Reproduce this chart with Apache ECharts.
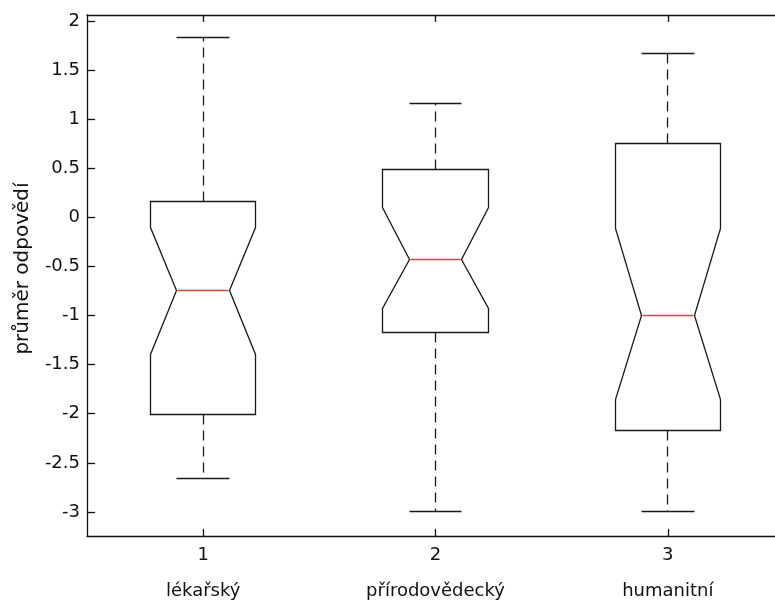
<!DOCTYPE html>
<html>
<head>
<meta charset="utf-8">
<script src="https://cdn.jsdelivr.net/npm/echarts@6/dist/echarts.min.js"></script>
<style>
  html, body { margin: 0; padding: 0; background: #fff; }
  #chart { width: 775px; height: 603px; }
</style>
</head>
<body>
<div id="chart"></div>
<script>
// Notched box plot of mean answers by faculty
const categories = ['lékařský', 'přírodovědecký', 'humanitní'];
const positions = [1, 2, 3];
const whiskerLow = [-2.66, -3.0, -3.0];
const quartile1 = [-2.01, -1.17, -2.17];
const notchLow = [-1.40, -0.93, -1.86];
const medians = [-0.75, -0.425, -1.0];
const notchHigh = [-0.10, 0.10, -0.11];
const quartile3 = [0.165, 0.49, 0.755];
const whiskerHigh = [1.835, 1.16, 1.665];
const yTicks = [-3, -2.5, -2, -1.5, -1, -0.5, 0, 0.5, 1, 1.5, 2];
const yTitle = 'průměr odpovědí';

const boxData = positions.map((p, i) => [
  p, whiskerLow[i], quartile1[i], notchLow[i], medians[i],
  notchHigh[i], quartile3[i], whiskerHigh[i]
]);

const BOX_HALF = 0.227;   // half box width in axis units
const NOTCH_HALF = 0.1135; // half width at the notch waist / caps
const LINE = '#1a1a1a';
const MEDIAN = '#cc4a4a';
const FONT = 'DejaVu Sans';

const snap = v => Math.round(v - 0.5) + 0.5;

function renderBox(params, api) {
  const x = api.value(0);
  const wl = api.value(1), q1 = api.value(2), nl = api.value(3);
  const md = api.value(4), nh = api.value(5), q3 = api.value(6), wh = api.value(7);
  const P = (dx, v) => {
    const c = api.coord([x + dx, v]);
    return [snap(c[0]), snap(c[1])];
  };
  const outline = [
    P(-BOX_HALF, q3), P(BOX_HALF, q3), P(BOX_HALF, nh), P(NOTCH_HALF, md),
    P(BOX_HALF, nl), P(BOX_HALF, q1), P(-BOX_HALF, q1), P(-BOX_HALF, nl),
    P(-NOTCH_HALF, md), P(-BOX_HALF, nh)
  ];
  const solid = { stroke: LINE, lineWidth: 1.3, fill: null };
  const dashed = { stroke: LINE, lineWidth: 1.3, lineDash: [10, 6] };
  const seg = (a, b, style) => ({
    type: 'line',
    shape: { x1: a[0], y1: a[1], x2: b[0], y2: b[1] },
    style
  });
  const mL = P(-NOTCH_HALF, md), mR = P(NOTCH_HALF, md);
  return {
    type: 'group',
    children: [
      seg(P(0, q3), P(0, wh), dashed),
      seg(P(0, q1), P(0, wl), dashed),
      seg(P(-NOTCH_HALF, wh), P(NOTCH_HALF, wh), solid),
      seg(P(-NOTCH_HALF, wl), P(NOTCH_HALF, wl), solid),
      { type: 'polygon', shape: { points: outline }, style: solid },
      {
        type: 'line', z2: 10,
        shape: { x1: mL[0] + 1, y1: mL[1], x2: mR[0] - 1, y2: mR[1] },
        style: { stroke: MEDIAN, lineWidth: 1.4 }
      }
    ]
  };
}

const chart = echarts.init(document.getElementById('chart'), null, { renderer: 'canvas' });

const axisLineStyle = { color: '#111', width: 1.3 };

chart.setOption({
  backgroundColor: '#ffffff',
  animation: false,
  grid: {
    left: 87, top: 15, width: 697, height: 521,
    containLabel: false, outerBoundsMode: 'none'
  },
  xAxis: [
    {
      type: 'value', position: 'bottom', min: 0.5, max: 3.5,
      splitLine: { show: false },
      axisLine: { show: true, onZero: false, lineStyle: axisLineStyle },
      axisTick: { show: true, inside: true, length: 7, customValues: positions, lineStyle: axisLineStyle },
      axisLabel: {
        show: true, customValues: positions, margin: 8,
        formatter: v => `{n|${v}}\n{c|${categories[positions.indexOf(v)]}}`,
        rich: {
          n: { fontFamily: FONT, fontSize: 18, color: '#111', lineHeight: 22 },
          c: { fontFamily: FONT, fontSize: 18, color: '#111', lineHeight: 34, verticalAlign: 'bottom' }
        }
      }
    },
    {
      type: 'value', position: 'top', min: 0.5, max: 3.5,
      splitLine: { show: false },
      axisLine: { show: true, onZero: false, lineStyle: axisLineStyle },
      axisTick: { show: true, inside: true, length: 7, customValues: positions, lineStyle: axisLineStyle },
      axisLabel: { show: false }
    }
  ],
  yAxis: [
    {
      type: 'value', position: 'left', min: -3.245, max: 2.06,
      name: yTitle, nameLocation: 'middle', nameRotate: 90, nameGap: 54,
      nameTextStyle: { fontFamily: FONT, fontSize: 20, color: '#111', padding: [0, 0, 0, 14] },
      splitLine: { show: false },
      axisLine: { show: true, onZero: false, lineStyle: axisLineStyle },
      axisTick: { show: true, inside: true, length: 8, customValues: yTicks, lineStyle: axisLineStyle },
      axisLabel: {
        show: true, customValues: yTicks, margin: 7,
        fontFamily: FONT, fontSize: 18, color: '#111'
      }
    },
    {
      type: 'value', position: 'right', min: -3.245, max: 2.06,
      splitLine: { show: false },
      axisLine: { show: true, onZero: false, lineStyle: axisLineStyle },
      axisTick: { show: true, inside: true, length: 8, customValues: yTicks, lineStyle: axisLineStyle },
      axisLabel: { show: false }
    }
  ],
  series: [
    {
      type: 'custom',
      xAxisIndex: 0, yAxisIndex: 0,
      renderItem: renderBox,
      encode: { x: 0, y: [1, 2, 3, 4, 5, 6, 7] },
      data: boxData,
      clip: false,
      silent: true
    }
  ]
});
</script>
</body>
</html>
